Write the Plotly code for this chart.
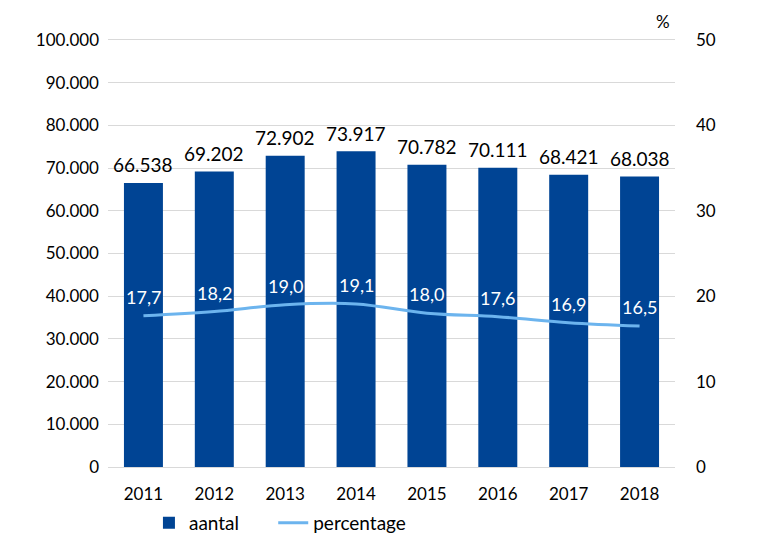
import plotly.graph_objects as go

years = ["2011", "2012", "2013", "2014", "2015", "2016", "2017", "2018"]
aantal = [66538, 69202, 72902, 73917, 70782, 70111, 68421, 68038]
percentage = [17.7, 18.2, 19.0, 19.1, 18.0, 17.6, 16.9, 16.5]

bar_color = "#004494"
line_color = "#6CB4EE"
grid_color = "#D9D9D9"
font_family = "Lato, Open Sans, sans-serif"

fig = go.Figure()
fig.add_trace(go.Bar(
    x=years, y=aantal, name="aantal" + "\u00a0" * 6,
    marker=dict(color=bar_color, line=dict(width=0)),
    width=0.55,
))
fig.add_trace(go.Scatter(
    x=years, y=percentage, name="percentage", yaxis="y2",
    mode="lines", line=dict(color=line_color, width=3, shape="spline"),
))

annotations = []
for i, v in enumerate(aantal):
    annotations.append(dict(
        x=i, y=v, xref="x", yref="y", text=f"{v:,}".replace(",", "."),
        showarrow=False, yanchor="middle", yshift=18,
        font=dict(size=19, color="black", family=font_family)))
for i, p in enumerate(percentage):
    annotations.append(dict(
        x=i, y=p, xref="x", yref="y2", text=f"{p:.1f}".replace(".", ","),
        showarrow=False, yanchor="middle", yshift=19,
        font=dict(size=18, color="white", family=font_family)))
annotations.append(dict(text="%", xref="paper", yref="paper", x=1.0, y=1.0,
                        xanchor="right", yanchor="middle", xshift=-3, yshift=19,
                        showarrow=False, font=dict(size=17)))

fig.update_layout(
    width=766, height=550,
    margin=dict(l=100, r=99, t=32, b=91, autoexpand=False),
    plot_bgcolor="white", paper_bgcolor="white",
    separators=",.",
    font=dict(family=font_family, size=17, color="black"),
    showlegend=True,
    legend=dict(orientation="h", xref="container", x=0.184, xanchor="left",
                yref="container", y=0.064, yanchor="middle",
                font=dict(size=19), itemwidth=30, traceorder="normal"),
    xaxis=dict(type="category", range=[-0.5, len(years) - 0.5], showline=True,
               linecolor=grid_color, mirror=True, ticks="",
               tickfont=dict(size=17), ticklabelstandoff=12),
    yaxis=dict(range=[0, 100000], dtick=10000, tickformat=",", gridcolor=grid_color,
               showline=False, zeroline=False, tickfont=dict(size=17), ticklabelstandoff=8),
    yaxis2=dict(range=[0, 50], dtick=10, overlaying="y", side="right", showgrid=False,
                zeroline=False, showline=False, tickfont=dict(size=17), ticklabelstandoff=20),
    annotations=annotations,
)

fig.write_html("out.html")
